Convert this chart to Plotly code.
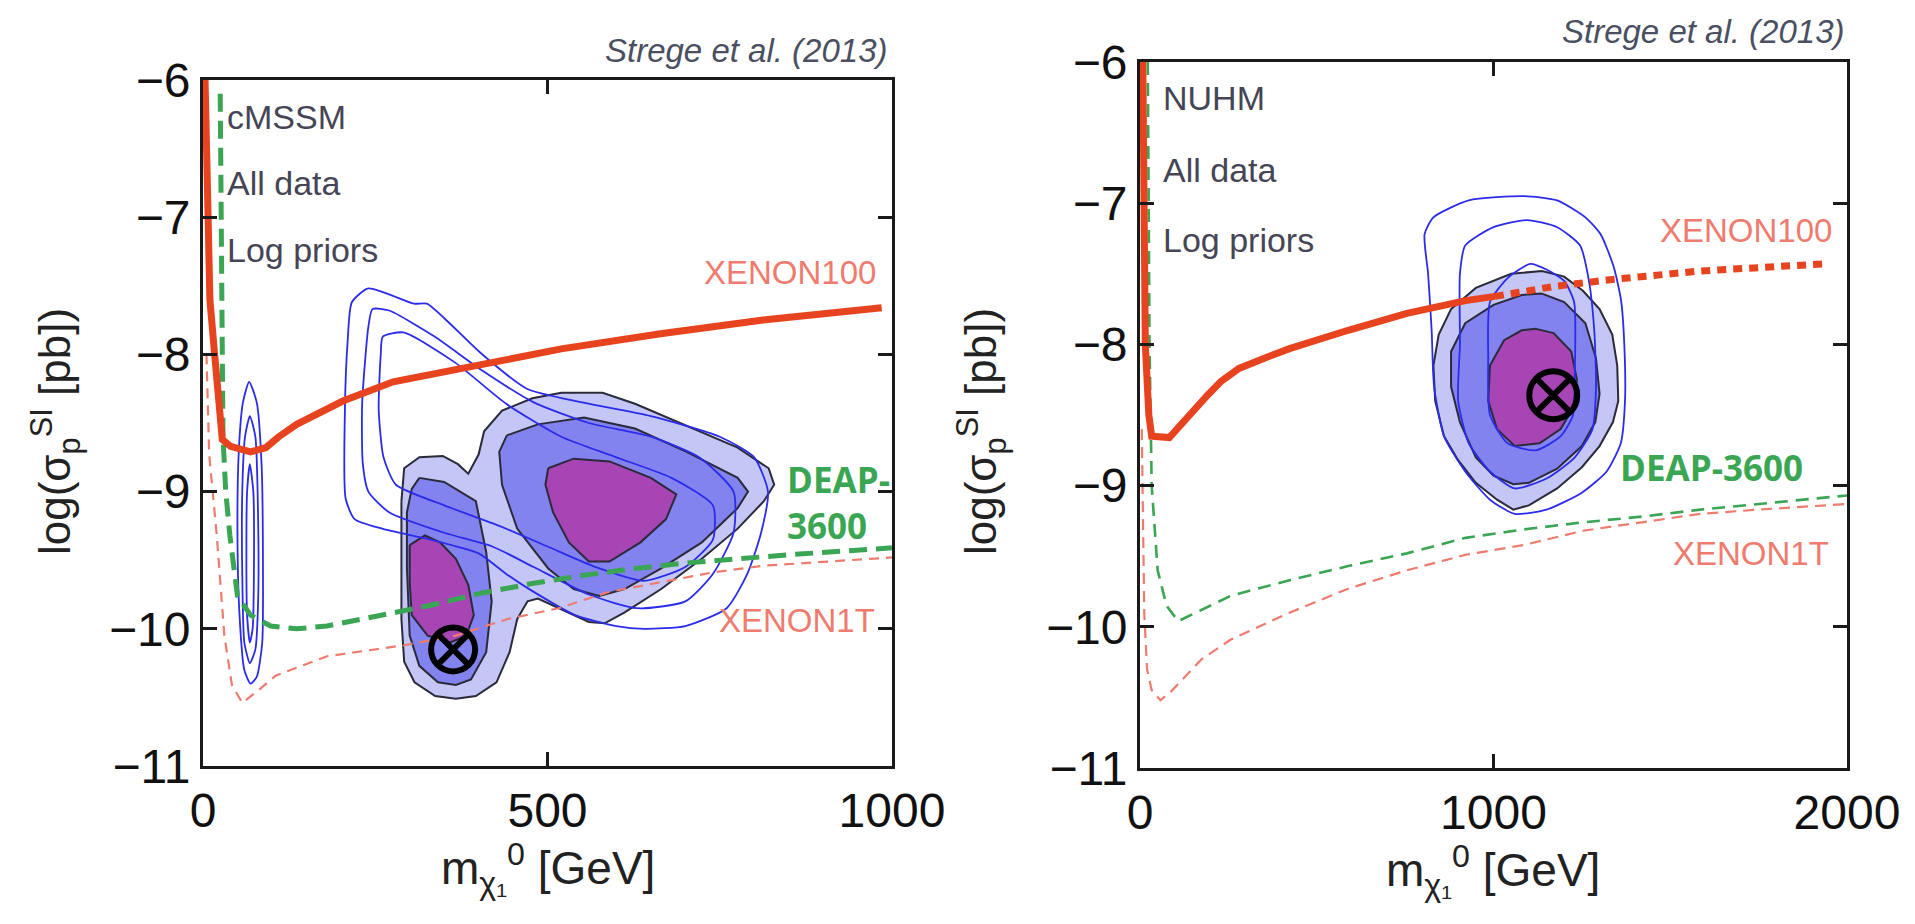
import plotly.graph_objects as go

W, H = 1915, 924

# ---------------- Left panel: cMSSM (x: GeV, y: log10 sigma [pb]) ----------------
L_XENON100 = [(3, -6.0), (6, -7.0), (10, -7.6), (16, -7.95), (22, -8.3), (28, -8.62), (40, -8.67),
              (69, -8.71), (91, -8.68), (110, -8.6), (136, -8.51), (170, -8.42), (203, -8.34),
              (276, -8.2), (403, -8.07), (520, -7.96), (664, -7.85), (813, -7.75), (985, -7.66)]
L_XENON1T = [(5, -8.0), (9, -8.73), (20, -9.32), (31, -10.05), (42, -10.41), (57, -10.54), (80, -10.45),
             (106, -10.34), (180, -10.2), (292, -10.12), (367, -10.05), (441, -9.93), (516, -9.85),
             (590, -9.73), (665, -9.66), (739, -9.59), (814, -9.54), (1000, -9.48)]
L_DEAP = [(25, -6.1), (26, -7.0), (27, -8.0), (29, -8.6), (33, -9.0), (39, -9.32), (50, -9.76), (69, -9.9),
          (98, -9.98), (136, -10.0), (180, -9.98), (255, -9.9), (329, -9.83), (404, -9.74), (478, -9.67),
          (553, -9.61), (627, -9.56), (702, -9.52), (776, -9.49), (851, -9.46), (1000, -9.41)]

L_OUTER = [(288, -9.07), (292, -8.83), (314, -8.75), (348, -8.74), (370, -8.8), (385, -8.87), (400, -8.73),
           (408, -8.56), (434, -8.41), (478, -8.32), (520, -8.28), (580, -8.28), (627, -8.36), (702, -8.52),
           (776, -8.68), (821, -8.83), (829, -8.95), (814, -9.07), (776, -9.27), (724, -9.49), (665, -9.71),
           (612, -9.88), (583, -9.96), (560, -9.95), (516, -9.85), (486, -9.78), (471, -9.8), (456, -9.93),
           (445, -10.17), (426, -10.39), (396, -10.49), (367, -10.51), (337, -10.49), (307, -10.39),
           (292, -10.24), (288, -9.93), (288, -9.32), (288, -9.07)]
L_MID_A = [(314, -8.9), (350, -8.93), (396, -9.07), (411, -9.44), (419, -9.8), (411, -10.17), (389, -10.37),
           (367, -10.41), (341, -10.39), (314, -10.27), (300, -10.05), (296, -9.56), (296, -9.15),
           (303, -8.98), (314, -8.9)]
L_MID_B = [(441, -8.59), (486, -8.51), (553, -8.46), (627, -8.54), (702, -8.71), (776, -8.9), (791, -9.0),
           (776, -9.12), (724, -9.37), (665, -9.56), (612, -9.71), (575, -9.76), (538, -9.71), (501, -9.56),
           (456, -9.27), (434, -8.95), (430, -8.71), (441, -8.59)]
L_IN_A = [(300, -9.39), (322, -9.32), (344, -9.37), (367, -9.49), (385, -9.68), (393, -9.9), (382, -10.05),
          (359, -10.1), (326, -10.05), (303, -9.9), (300, -9.66), (300, -9.39)]
L_IN_B = [(501, -8.83), (538, -8.76), (590, -8.78), (650, -8.9), (687, -9.02), (672, -9.2), (635, -9.37),
          (590, -9.51), (560, -9.51), (531, -9.37), (508, -9.15), (497, -8.95), (501, -8.83)]

L_LINE_1 = [(67, -8.2), (78, -8.35), (85, -8.8), (87, -9.5), (86, -10.1), (78, -10.35), (69, -10.4),
            (60, -10.3), (53, -9.9), (50, -9.3), (52, -8.7), (58, -8.35), (67, -8.2)]
L_LINE_2 = [(68, -8.45), (76, -8.6), (80, -9.2), (80, -9.8), (76, -10.15), (68, -10.25), (60, -10.1),
            (57, -9.6), (57, -9.0), (61, -8.6), (68, -8.45)]
L_LINE_3 = [(68, -8.8), (73, -9.0), (74, -9.5), (72, -10.0), (68, -10.1), (64, -9.9), (63, -9.4),
            (64, -9.0), (68, -8.8)]
L_LINE_4 = [(206, -8.4), (210, -7.9), (216, -7.62), (239, -7.52), (269, -7.56), (306, -7.63), (325, -7.63),
            (351, -7.74), (403, -7.99), (470, -8.25), (550, -8.35), (650, -8.45), (750, -8.6), (800, -8.75),
            (820, -9.0), (810, -9.3), (790, -9.6), (760, -9.85), (700, -9.98), (640, -10.0), (600, -9.98),
            (540, -9.9), (470, -9.7), (440, -9.6), (400, -9.45), (330, -9.35), (260, -9.27), (220, -9.2),
            (207, -9.05), (206, -8.4)]
L_LINE_5 = [(231, -8.36), (240, -7.8), (246, -7.67), (270, -7.68), (336, -7.87), (403, -8.11), (480, -8.35),
            (560, -8.5), (650, -8.6), (720, -8.75), (770, -9.0), (770, -9.3), (740, -9.6), (700, -9.8),
            (630, -9.85), (560, -9.75), (480, -9.55), (420, -9.4), (350, -9.3), (270, -9.15), (240, -9.0),
            (232, -8.8), (231, -8.36)]
L_LINE_6 = [(255, -8.4), (258, -8.0), (261, -7.87), (291, -7.84), (366, -8.06), (440, -8.36), (520, -8.6),
            (600, -8.75), (680, -8.9), (740, -9.1), (740, -9.35), (700, -9.55), (640, -9.65), (570, -9.55),
            (500, -9.4), (430, -9.25), (350, -9.1), (280, -8.95), (262, -8.75), (255, -8.4)]
L_BEST = (363, -10.15)

# ---------------- Right panel: NUHM ----------------
R_XENON100 = [(8, -6.0), (10, -7.0), (15, -8.0), (25, -8.5), (33, -8.65), (83, -8.66), (141, -8.49),
              (191, -8.36), (230, -8.26), (280, -8.17), (350, -8.1), (423, -8.03), (589, -7.9), (755, -7.78),
              (921, -7.69), (1004, -7.66)]
R_XENON100_EXT = [(1004, -7.66), (1170, -7.59), (1336, -7.54), (1585, -7.48), (1934, -7.43)]
R_XENON1T = [(5, -8.6), (8, -9.3), (12, -9.9), (20, -10.3), (33, -10.45), (58, -10.52), (91, -10.45),
             (174, -10.23), (257, -10.09), (423, -9.9), (589, -9.73), (755, -9.6), (921, -9.49),
             (1087, -9.42), (1253, -9.32), (1419, -9.26), (1585, -9.2), (1751, -9.17), (2000, -9.13)]
R_DEAP = [(22, -6.0), (24, -7.0), (27, -8.0), (33, -9.0), (50, -9.6), (75, -9.85), (108, -9.96),
          (257, -9.78), (423, -9.67), (589, -9.57), (755, -9.48), (921, -9.37), (1087, -9.31),
          (1253, -9.26), (1419, -9.22), (1585, -9.17), (1751, -9.13), (2000, -9.07)]

R_OUTER = [(1137, -7.48), (1200, -7.52), (1253, -7.62), (1300, -7.75), (1336, -7.93), (1350, -8.15),
           (1353, -8.4), (1338, -8.55), (1300, -8.72), (1250, -8.87), (1180, -9.02), (1100, -9.14),
           (1056, -9.17), (1010, -9.1), (950, -8.98), (900, -8.82), (860, -8.65), (835, -8.4), (830, -8.15),
           (845, -7.93), (880, -7.75), (950, -7.6), (1050, -7.5), (1137, -7.48)]
R_MID = [(1137, -7.64), (1200, -7.7), (1260, -7.85), (1290, -8.1), (1300, -8.35), (1288, -8.55),
         (1250, -8.72), (1180, -8.88), (1100, -8.98), (1056, -8.99), (1000, -8.93), (950, -8.8),
         (905, -8.55), (880, -8.3), (880, -8.05), (920, -7.85), (1000, -7.72), (1080, -7.65), (1137, -7.64)]
R_IN = [(1120, -7.89), (1170, -7.92), (1220, -8.05), (1236, -8.25), (1225, -8.45), (1190, -8.6),
        (1130, -8.7), (1060, -8.72), (1010, -8.6), (985, -8.4), (990, -8.15), (1030, -7.97), (1080, -7.9),
        (1120, -7.89)]
R_LINE_1 = [(1087, -6.95), (1180, -6.98), (1260, -7.1), (1303, -7.22), (1340, -7.45), (1361, -7.69),
            (1370, -8.0), (1372, -8.4), (1360, -8.7), (1320, -8.9), (1250, -9.05), (1150, -9.17),
            (1060, -9.2), (990, -9.1), (920, -8.9), (860, -8.65), (832, -8.3), (825, -7.9), (815, -7.5),
            (805, -7.22), (830, -7.1), (930, -6.98), (1087, -6.95)]
R_LINE_2 = [(1095, -7.12), (1180, -7.17), (1245, -7.3), (1270, -7.55), (1285, -7.9), (1290, -8.3),
            (1280, -8.6), (1230, -8.8), (1150, -8.95), (1060, -9.02), (990, -8.9), (930, -8.7),
            (900, -8.4), (905, -8.0), (905, -7.5), (920, -7.3), (1000, -7.17), (1095, -7.12)]
R_LINE_3 = [(1104, -7.43), (1150, -7.47), (1200, -7.55), (1228, -7.7), (1230, -8.2), (1225, -8.5),
            (1190, -8.65), (1120, -8.75), (1040, -8.7), (990, -8.5), (985, -8.1), (990, -7.7),
            (1040, -7.53), (1104, -7.43)]
R_BEST = (1169, -8.36)

X_TICKS_L = [0, 500, 1000]
X_TICKS_R = [0, 1000, 2000]
Y_TICKS = [-11, -10, -9, -8, -7, -6]

# ---------------- colours ----------------
C_LIGHT = '#c4c6f6'
C_MID = '#8383f0'
C_IN = '#a845b5'
C_BLUE = '#2b2bea'
C_RED = '#e8431f'
C_RED_LIGHT = '#ef7b6e'
C_GREEN = '#3aa552'

fig = go.Figure()


def xy(pts):
    return [p[0] for p in pts], [p[1] for p in pts]


def region(pts, color, xa, ya):
    x, y = xy(pts)
    fig.add_trace(go.Scatter(x=x, y=y, xaxis=xa, yaxis=ya, mode='lines', fill='toself', fillcolor=color,
                             line=dict(color='#2a2a3a', width=2), hoverinfo='skip', showlegend=False))


def line(pts, xa, ya, color, width, dash='solid', shape='spline'):
    x, y = xy(pts)
    fig.add_trace(go.Scatter(x=x, y=y, xaxis=xa, yaxis=ya, mode='lines',
                             line=dict(color=color, width=width, dash=dash, shape=shape, smoothing=0.6),
                             hoverinfo='skip', showlegend=False))


# left panel
for pts, c in [(L_OUTER, C_LIGHT), (L_MID_A, C_MID), (L_MID_B, C_MID), (L_IN_A, C_IN), (L_IN_B, C_IN)]:
    region(pts, c, 'x', 'y')
for pts in [L_LINE_1, L_LINE_2, L_LINE_3, L_LINE_4, L_LINE_5, L_LINE_6]:
    line(pts, 'x', 'y', C_BLUE, 1.8)
line(L_XENON1T, 'x', 'y', C_RED_LIGHT, 2.2, '10px,7px', 'linear')
line(L_DEAP, 'x', 'y', C_GREEN, 5, '18px,9px', 'linear')
line(L_XENON100, 'x', 'y', C_RED, 7, 'solid', 'linear')
fig.add_trace(go.Scatter(x=[L_BEST[0]], y=[L_BEST[1]], xaxis='x', yaxis='y', mode='markers',
                         marker=dict(symbol='circle-x-open', size=44, color='black', line=dict(width=6)),
                         hoverinfo='skip', showlegend=False))

# right panel
for pts, c in [(R_OUTER, C_LIGHT), (R_MID, C_MID), (R_IN, C_IN)]:
    region(pts, c, 'x2', 'y2')
for pts in [R_LINE_1, R_LINE_2, R_LINE_3]:
    line(pts, 'x2', 'y2', C_BLUE, 1.8)
line(R_XENON1T, 'x2', 'y2', C_RED_LIGHT, 2.2, '11px,7px', 'linear')
line(R_DEAP, 'x2', 'y2', C_GREEN, 2.6, '13px,8px', 'linear')
line(R_XENON100, 'x2', 'y2', C_RED, 7, 'solid', 'linear')
line(R_XENON100_EXT, 'x2', 'y2', C_RED, 7, '9px,7px', 'linear')
fig.add_trace(go.Scatter(x=[R_BEST[0]], y=[R_BEST[1]], xaxis='x2', yaxis='y2', mode='markers',
                         marker=dict(symbol='circle-x-open', size=48, color='black', line=dict(width=6)),
                         hoverinfo='skip', showlegend=False))

FONT = 'Liberation Sans'
axis_common = dict(showline=True, linecolor='#1a1a1a', linewidth=3, mirror='ticks', ticks='inside',
                   ticklen=14, tickwidth=3, tickcolor='#1a1a1a', showgrid=False, zeroline=False,
                   automargin=False,
                   tickfont=dict(family=FONT, size=48, color='#111111'))


def fx(px):
    return px / W


def fy(py):
    return 1 - py / H


fig.update_layout(
    width=W, height=H, autosize=False,
    margin=dict(l=0, r=0, t=0, b=0, pad=0),
    paper_bgcolor='white', plot_bgcolor='white',
    xaxis=dict(domain=[fx(203), fx(892)], range=[0, 1000], tickvals=X_TICKS_L, anchor='y', **axis_common),
    yaxis=dict(domain=[fy(766), fy(80)], range=[-11, -6], tickvals=Y_TICKS, anchor='x', **axis_common),
    xaxis2=dict(domain=[fx(1140), fx(1847)], range=[0, 2000], tickvals=X_TICKS_R, anchor='y2', **axis_common),
    yaxis2=dict(domain=[fy(768), fy(62)], range=[-11, -6], tickvals=Y_TICKS, anchor='x2', **axis_common),
)


def note(text, px, py, size, color='#444444', xanchor='left', yanchor='middle', angle=0, family=FONT,
         align='left'):
    fig.add_annotation(text=text, x=fx(px), y=fy(py), xref='paper', yref='paper', showarrow=False,
                       xanchor=xanchor, yanchor=yanchor, textangle=angle, align=align,
                       font=dict(family=family, size=size, color=color))


# citation
note('<i>Strege et al. (2013)</i>', 890, 50, 33, '#4a4f62', 'right')
note('<i>Strege et al. (2013)</i>', 1847, 31, 33, '#4a4f62', 'right')
# model text
for t, yy in [('cMSSM', 117), ('All data', 183), ('Log priors', 250)]:
    note(t, 225, yy, 34, '#454555')
for t, yy in [('NUHM', 98), ('All data', 170), ('Log priors', 240)]:
    note(t, 1161, yy, 34, '#454555')
# experiment labels
note('XENON100', 878, 273, 33, C_RED_LIGHT, 'right')
note('XENON1T', 877, 620, 33, C_RED_LIGHT, 'right')
note('<b>DEAP-<br>3600</b>', 785, 502, 35, C_GREEN, 'left', family='Open Sans')
note('XENON100', 1834, 230, 33, C_RED_LIGHT, 'right')
note('XENON1T', 1831, 553, 33, C_RED_LIGHT, 'right')
note('<b>DEAP-3600</b>', 1618, 467, 35, C_GREEN, 'left', family='Open Sans')
# axis titles
YT = 'log(σ<sub>p</sub><sup>SI</sup> [pb])'
XT = 'm<sub>χ₁</sub><sup>0</sup> [GeV]'
note(YT, 56, 432, 44, '#222222', 'center', 'middle', -90)
note(YT, 982, 432, 44, '#222222', 'center', 'middle', -90)
note(XT, 548, 868, 46, '#222222', 'center', 'middle')
note(XT, 1493, 870, 46, '#222222', 'center', 'middle')

fig.write_html('out.html', config={'displayModeBar': False},
               post_script="document.body.style.margin='0';")
